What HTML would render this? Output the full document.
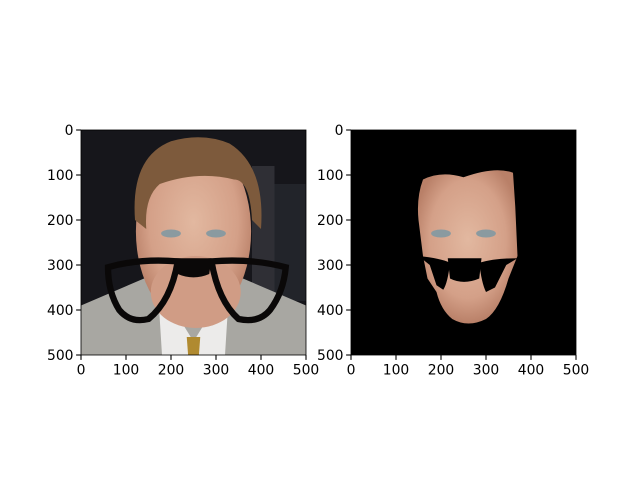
<!DOCTYPE html>
<html><head><meta charset="utf-8"><style>
html,body{margin:0;padding:0;background:#fff;}
svg{display:block;font-family:"DejaVu Sans","Liberation Sans",sans-serif;}
</style></head><body>
<svg id="fig" width="640" height="480" viewBox="0 0 640 480">
<defs>
<clipPath id="clipL"><rect x="0" y="0" width="500" height="500"/></clipPath>
<clipPath id="clipR"><rect x="0" y="0" width="500" height="500"/></clipPath>
<radialGradient id="skin" cx="50%" cy="45%" r="55%"><stop offset="0" stop-color="#e2b8a0"/><stop offset="0.7" stop-color="#d4a088"/><stop offset="1" stop-color="#b98068"/></radialGradient>
</defs>
<g id="axL" transform="translate(81,130) scale(0.45)">
 <g clip-path="url(#clipL)">
  <rect width="500" height="500" fill="#16161b"/>
  <rect x="380" y="80" width="50" height="280" fill="#3a3a40" opacity="0.7"/>
  <rect x="430" y="120" width="70" height="260" fill="#22242a"/>
  <path d="M0,390 L140,330 L220,360 L280,370 L360,330 L500,390 L500,500 L0,500Z" fill="#a8a7a2"/>
  <path d="M170,340 L250,470 L330,340 L320,500 L180,500Z" fill="#ecebea"/>
  <path d="M235,460 L265,460 L262,500 L238,500Z" fill="#b08a30"/>
  <ellipse cx="250" cy="225" rx="128" ry="205" fill="url(#skin)"/>
  <ellipse cx="255" cy="360" rx="100" ry="80" fill="#d09c85"/>
  <path d="M120,200 Q110,60 200,25 Q270,5 330,30 Q410,80 400,220 L380,200 Q375,110 340,110 Q260,90 175,120 Q140,150 145,220Z" fill="#7d5a3c"/>
  <ellipse cx="200" cy="230" rx="22" ry="9" fill="#8a9aa0"/>
  <ellipse cx="300" cy="230" rx="22" ry="9" fill="#8a9aa0"/>
  <g fill="none" stroke="#0a0808" stroke-width="14">
   <path d="M60,305 Q130,285 215,292 Q200,380 150,420 Q110,430 85,400 Q60,360 60,305Z"/>
   <path d="M455,305 Q380,285 290,292 Q305,380 350,420 Q395,430 420,400 Q450,360 455,305Z"/>
  </g>
  <path d="M210,285 L290,285 L285,320 Q250,335 215,320Z" fill="#0a0808"/>
 </g>
 <rect width="500" height="500" fill="none" stroke="#000" stroke-width="1.8"/>
</g>
<g id="axR" transform="translate(351,130) scale(0.45)">
 <g clip-path="url(#clipR)">
  <rect width="500" height="500" fill="#000"/>
  <path d="M160,110 Q200,90 250,105 Q320,80 360,95 L365,170 L370,280 L350,330 Q330,400 300,420 Q260,440 225,420 Q200,400 190,360 L170,330 L160,280 L150,200 Q145,150 160,110Z" fill="url(#skin)"/>
  <ellipse cx="200" cy="230" rx="22" ry="9" fill="#8a9aa0"/>
  <ellipse cx="300" cy="230" rx="22" ry="9" fill="#8a9aa0"/>
  <path d="M150,280 Q200,285 220,295 Q215,340 205,355 L190,345 L175,300Z M370,285 Q320,285 285,295 Q290,340 300,360 L320,350 L345,300Z" fill="#000"/>
  <path d="M215,285 L290,285 L285,330 Q250,345 220,330Z" fill="#000"/>
 </g>
 <rect width="500" height="500" fill="none" stroke="#000" stroke-width="1.8"/>
</g>
<g id="ticks"></g>
</svg>
<script>
const xTickVals = [0, 100, 200, 300, 400, 500];
const yTickVals = [0, 100, 200, 300, 400, 500];
const axesOrigins = [[81,130],[351,130]];
const NS = "http://www.w3.org/2000/svg";
const g = document.getElementById('ticks');
function sx(v){return v*0.45;}
axesOrigins.forEach((o,ai)=>{
  xTickVals.forEach(v=>{
    const x=o[0]+sx(v), y=o[1]+225;
    const l=document.createElementNS(NS,'line');
    l.setAttribute('x1',x);l.setAttribute('x2',x);l.setAttribute('y1',y);l.setAttribute('y2',y+4.9);
    l.setAttribute('stroke','#000');l.setAttribute('stroke-width','1.1');
    
    
    g.appendChild(l);
    const t=document.createElementNS(NS,'text');
    t.setAttribute('x',x);t.setAttribute('y',y+19.5);t.setAttribute('text-anchor','middle');
    t.setAttribute('font-size','13.9');t.textContent=v;
    
    
    g.appendChild(t);
  });
  yTickVals.forEach(v=>{
    const x=o[0], y=o[1]+sx(v);
    const l=document.createElementNS(NS,'line');
    l.setAttribute('x1',x-4.9);l.setAttribute('x2',x);l.setAttribute('y1',y);l.setAttribute('y2',y);
    l.setAttribute('stroke','#000');l.setAttribute('stroke-width','1.1');
    
    
    g.appendChild(l);
    const t=document.createElementNS(NS,'text');
    t.setAttribute('x',x-7.5);t.setAttribute('y',y+5);t.setAttribute('text-anchor','end');
    t.setAttribute('font-size','13.9');t.textContent=v;
    
    
    g.appendChild(t);
  });
});
</script>
</body></html>
